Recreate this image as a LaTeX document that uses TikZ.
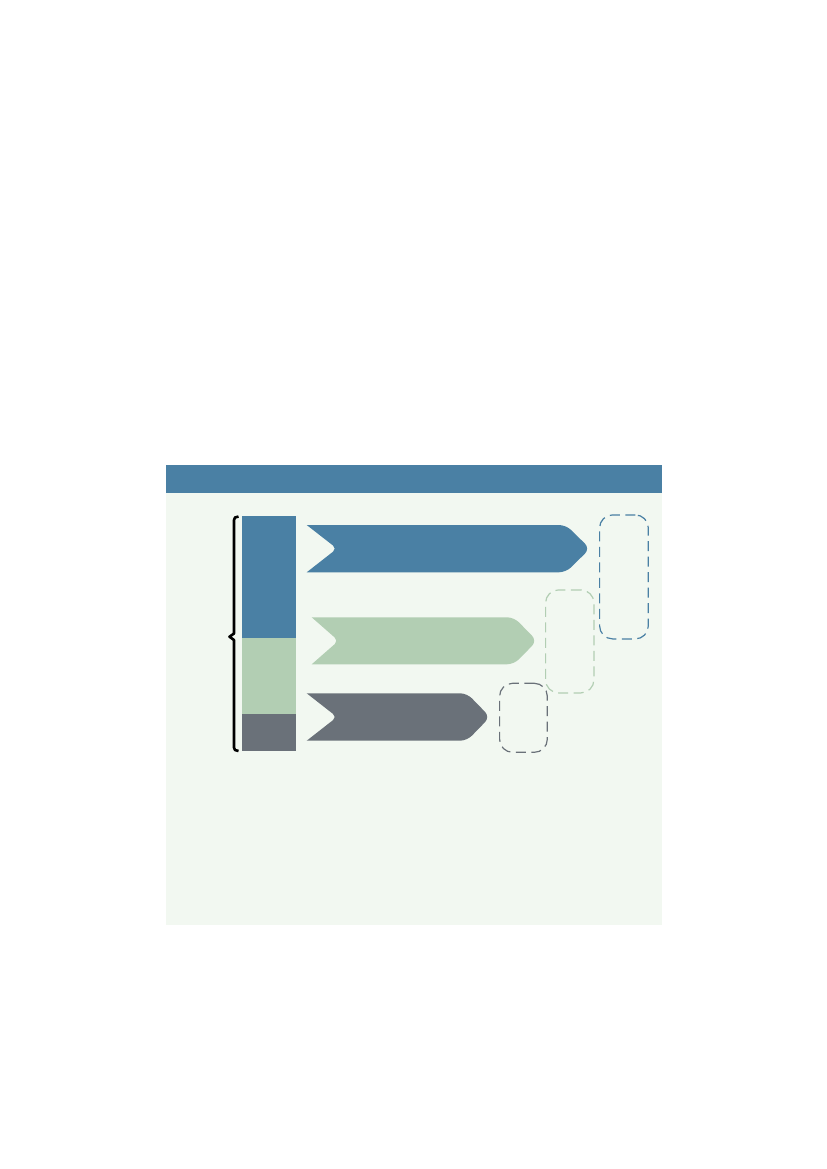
\documentclass[tikz,border=0pt]{standalone}
\usetikzlibrary{positioning}
\definecolor{barblue}{RGB}{74,128,164}
\definecolor{bargreen}{RGB}{178,206,179}
\definecolor{bargrey}{RGB}{106,113,121}
\definecolor{panelbg}{RGB}{242,248,241}
\tikzset{
  segbox/.style={draw=none,inner sep=0pt,minimum width=54.7bp,anchor=north west},
  slotbox/.style={draw,dash pattern=on 10bp off 5.5bp,line width=1.2bp,rounded corners=13bp,inner sep=0pt,anchor=north west},
}
\begin{document}
\begin{tikzpicture}[x=1bp,y=-1bp,line join=round]
\useasboundingbox (0,0) rectangle (827,1169);
%%
\fill[panelbg] (166,465) rectangle (661.7,925);
\node (header) at (166,465) [segbox,fill=barblue,minimum width=495.7bp,minimum height=27.3bp] {};
%
\node (seg_0) at (241.3,516) [segbox,fill=barblue,minimum height=122bp] {};
  \node (seg_1) at (241.3,638) [segbox,fill=bargreen,minimum height=75.7bp] {};
  \node (seg_2) at (241.3,713.7) [segbox,fill=bargrey,minimum height=37.3bp] {};
\draw [black,line width=2.6bp] (238.5,516.5) -- (235,517.5) -- (234,520) -- (234,633.5) -- (229.5,636.7) -- (234,640) -- (234,747.5) -- (235,750) -- (238.5,751);
%
\fill [barblue] (306.7,525) [rounded corners=7bp] -- (566,525) -- (590,548.6) -- (566,572.3) [sharp corners] -- (306.7,572.3) [rounded corners=5bp] -- (337,548.6) [sharp corners] -- cycle;
  \fill [bargreen] (311.7,617.3) [rounded corners=7bp] -- (514,617.3) -- (537,640.8) -- (514,664.3) [sharp corners] -- (311.7,664.3) [rounded corners=5bp] -- (338.5,640.8) [sharp corners] -- cycle;
  \fill [bargrey] (306.7,693.3) [rounded corners=7bp] -- (467,693.3) -- (490,717) -- (467,740.7) [sharp corners] -- (306.7,740.7) [rounded corners=5bp] -- (337,717) [sharp corners] -- cycle;
%
\node (slot_0) at (599,514.3) [slotbox,draw=barblue,minimum width=48.7bp,minimum height=124bp] {};
  \node (slot_1) at (545,589.3) [slotbox,draw=bargreen,minimum width=48.3bp,minimum height=103bp] {};
  \node (slot_2) at (499,682.7) [slotbox,draw=bargrey,minimum width=47.7bp,minimum height=69bp] {};
%
\end{tikzpicture}
\end{document}
